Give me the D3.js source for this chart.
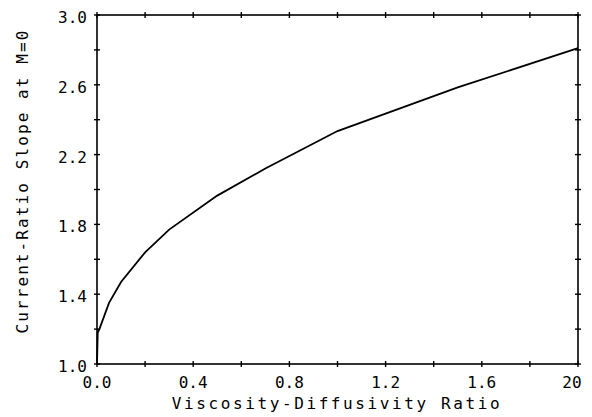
<!DOCTYPE html>
<html>
<head>
<meta charset="utf-8">
<script src="https://cdn.jsdelivr.net/npm/d3@7"></script>
<style>
  body { margin: 0; background: #fff; }
  text { font-family: "DejaVu Sans Mono", monospace; fill: #000; }
</style>
</head>
<body>
<div id="chart"></div>
<script>
// curve
const ratio = [0, 0.003, 0.01, 0.05, 0.1, 0.2, 0.3, 0.5, 0.7, 1.0, 1.5, 2.0];
const slope = [1.0, 1.18, 1.20, 1.35, 1.47, 1.64, 1.77, 1.965, 2.12, 2.335, 2.585, 2.81];

const xTicks = [0, 0.4, 0.8, 1.2, 1.6, 2.0];
const xTickLabels = ['0.0', '0.4', '0.8', '1.2', '1.6', '20'];
const yTicks = [1.0, 1.4, 1.8, 2.2, 2.6, 3.0];
const yTickLabels = ['1.0', '1.4', '1.8', '2.2', '2.6', '3.0'];

const width = 592;
const height = 417;
const margin = {top: 15, right: 14, bottom: 53, left: 97};

const svg = d3.select('#chart')
  .append('svg')
  .attr('width', width)
  .attr('height', height);

const x = d3.scaleLinear()
  .domain([0, 2])
  .range([margin.left, width - margin.right]);

const y = d3.scaleLinear()
  .domain([1, 3])
  .range([height - margin.bottom, margin.top]);

const minor = d3.range(0, 2.01, 0.2);
const minorY = d3.range(1, 3.01, 0.2);

// frame
svg.append('rect')
  .attr('x', x(0)).attr('y', y(3))
  .attr('width', x(2) - x(0)).attr('height', y(1) - y(3))
  .attr('fill', 'none').attr('stroke', '#000').attr('stroke-width', 1.6);

// cross ticks on all four sides
const tk = 3;
const g = svg.append('g').attr('stroke', '#000').attr('stroke-width', 1.4);
minor.forEach(v => {
  [y(1), y(3)].forEach(yy => {
    g.append('line').attr('x1', x(v)).attr('x2', x(v)).attr('y1', yy - tk).attr('y2', yy + tk);
  });
});
minorY.forEach(v => {
  [x(0), x(2)].forEach(xx => {
    g.append('line').attr('y1', y(v)).attr('y2', y(v)).attr('x1', xx - tk).attr('x2', xx + tk);
  });
});

// tick labels
svg.append('g')
  .selectAll('text')
  .data(xTicks)
  .join('text')
    .attr('x', (d, i) => x(d) - (i === xTicks.length - 1 ? 6 : 0))
    .attr('y', y(1) + 24)
    .attr('text-anchor', 'middle')
    .attr('font-size', 16)
    .text((d, i) => xTickLabels[i]);

svg.append('g')
  .selectAll('text')
  .data(yTicks)
  .join('text')
    .attr('x', x(0) - 10)
    .attr('y', d => y(d) + 8)
    .attr('text-anchor', 'end')
    .attr('font-size', 16)
    .text((d, i) => yTickLabels[i]);

// curve
const pts = ratio.map((r, i) => [r, slope[i]]);
svg.append('path')
  .datum(pts)
  .attr('fill', 'none')
  .attr('stroke', '#000')
  .attr('stroke-width', 1.8)
  .attr('d', d3.line().x(d => x(d[0])).y(d => y(d[1])));

// axis titles
svg.append('text')
  .attr('x', 337)
  .attr('y', 409)
  .attr('text-anchor', 'middle')
  .attr('font-size', 16)
  .attr('letter-spacing', 2.6)
  .text('Viscosity-Diffusivity Ratio');

svg.append('text')
  .attr('transform', 'translate(28,181) rotate(-90)')
  .attr('text-anchor', 'middle')
  .attr('font-size', 16)
  .attr('letter-spacing', 2.1)
  .text('Current-Ratio Slope at M=0');
</script>
</body>
</html>
